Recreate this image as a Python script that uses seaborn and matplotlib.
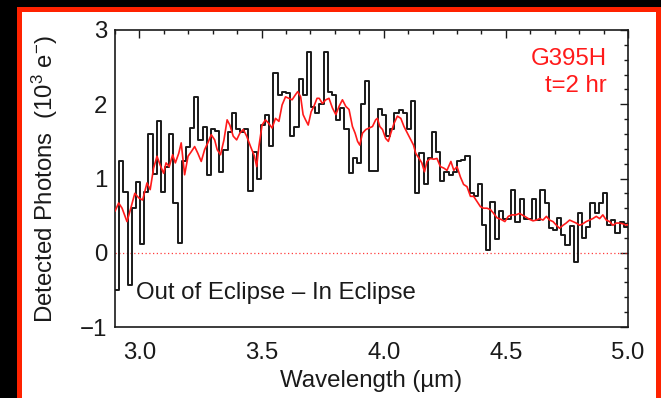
import numpy as np
import pandas as pd
import matplotlib
matplotlib.use("Agg")
import matplotlib.pyplot as plt
from matplotlib.patches import Rectangle
from matplotlib.ticker import MultipleLocator
import seaborn as sns

# ---- data -------------------------------------------------------------
# binned difference spectrum (out of eclipse minus in eclipse), 10^3 e-
wl_min, wl_max, n_bins = 2.9, 5.0, 123
binned_photons = [
    -0.50, 1.24, 0.82, -0.43, 0.60, 0.95, 0.12, 0.82, 1.60, 1.06,
    1.78, 0.82, 1.15, 1.60, 0.67, 0.13, 1.24, 1.43, 1.68, 2.10,
    1.52, 1.69, 1.05, 1.66, 1.64, 1.09, 1.39, 1.62, 1.88, 1.66,
    1.62, 1.66, 0.83, 1.36, 1.00, 1.72, 1.86, 1.44, 2.42, 2.13,
    2.17, 2.15, 1.57, 1.70, 2.34, 2.13, 2.71, 1.96, 1.88, 2.00,
    2.71, 2.17, 2.13, 1.79, 1.95, 1.66, 1.07, 1.28, 1.21, 2.00,
    2.31, 1.10, 1.10, 1.94, 1.86, 1.57, 1.66, 1.88, 1.92, 1.88,
    1.66, 2.04, 0.80, 1.34, 0.93, 1.27, 1.63, 1.36, 0.96, 1.09,
    1.05, 1.09, 1.23, 1.25, 1.30, 0.80, 0.76, 0.93, 0.38, 0.04,
    0.69, 0.18, 0.56, 0.45, 0.45, 0.84, 0.42, 0.72, 0.46, 0.46,
    0.72, 0.44, 0.85, 0.67, 0.33, 0.31, 0.47, 0.24, 0.11, 0.36,
    -0.12, 0.53, 0.20, 0.35, 0.67, 0.53, 0.67, 0.80, 0.37, 0.44,
    0.26, 0.42, 0.35,
]

# full-resolution model difference spectrum
model_wl = [
    2.900, 2.915, 2.929, 2.949, 2.963, 2.981, 2.997, 3.013, 3.031, 3.044,
    3.058, 3.072, 3.085, 3.099, 3.109, 3.122, 3.136, 3.147, 3.161, 3.171,
    3.185, 3.199, 3.212, 3.226, 3.239, 3.253, 3.267, 3.280, 3.294, 3.308,
    3.318, 3.332, 3.346, 3.359, 3.370, 3.384, 3.398, 3.411, 3.425, 3.439,
    3.455, 3.471, 3.480, 3.489, 3.502, 3.516, 3.530, 3.543, 3.557, 3.571,
    3.584, 3.598, 3.612, 3.625, 3.639, 3.648, 3.660, 3.670, 3.680, 3.691,
    3.703, 3.714, 3.727, 3.736, 3.749, 3.763, 3.776, 3.790, 3.804, 3.817,
    3.831, 3.845, 3.858, 3.872, 3.883, 3.893, 3.902, 3.913, 3.927, 3.940,
    3.954, 3.967, 3.974, 3.984, 3.995, 4.008, 4.019, 4.029, 4.042, 4.056,
    4.070, 4.083, 4.097, 4.111, 4.122, 4.131, 4.145, 4.156, 4.167, 4.177,
    4.191, 4.205, 4.218, 4.232, 4.246, 4.259, 4.275, 4.287, 4.300, 4.314,
    4.327, 4.341, 4.355, 4.368, 4.382, 4.396, 4.409, 4.423, 4.437, 4.450,
    4.464, 4.480, 4.496, 4.510, 4.524, 4.541, 4.556, 4.577, 4.597, 4.611,
    4.625, 4.638, 4.652, 4.666, 4.679, 4.693, 4.707, 4.720, 4.734, 4.747,
    4.761, 4.774, 4.788, 4.802, 4.815, 4.829, 4.843, 4.856, 4.870, 4.884,
    4.897, 4.911, 4.925, 4.938, 4.952, 4.965, 4.979, 4.993, 5.000,
]
model_photons = [
    0.56, 0.67, 0.60, 0.42, 0.58, 0.80, 0.74, 0.71, 0.94, 0.85,
    1.14, 1.30, 1.18, 1.07, 1.21, 1.16, 1.32, 1.21, 1.34, 1.48,
    1.05, 1.30, 1.36, 1.43, 1.34, 1.23, 1.39, 1.48, 1.59, 1.52,
    1.39, 1.32, 1.52, 1.79, 1.72, 1.57, 1.52, 1.61, 1.66, 1.57,
    1.43, 1.30, 1.16, 1.43, 1.72, 1.79, 1.74, 1.68, 1.81, 1.77,
    1.99, 2.10, 2.08, 2.06, 2.13, 2.17, 2.10, 1.86, 1.79, 1.72,
    1.90, 1.97, 2.08, 2.08, 2.01, 2.06, 2.08, 1.95, 1.86, 1.97,
    2.06, 1.97, 1.93, 1.70, 1.61, 1.50, 1.45, 1.61, 1.66, 1.68,
    1.70, 1.79, 1.81, 1.70, 1.66, 1.54, 1.50, 1.61, 1.74, 1.84,
    1.81, 1.70, 1.61, 1.52, 1.45, 1.34, 1.27, 1.21, 1.09, 1.23,
    1.27, 1.26, 1.27, 1.16, 1.14, 1.11, 1.23, 1.11, 1.16, 1.02,
    0.92, 0.89, 0.76, 0.76, 0.69, 0.62, 0.60, 0.60, 0.58, 0.53,
    0.47, 0.45, 0.42, 0.49, 0.51, 0.51, 0.53, 0.49, 0.45, 0.43,
    0.44, 0.46, 0.44, 0.49, 0.44, 0.42, 0.37, 0.33, 0.37, 0.40,
    0.44, 0.42, 0.40, 0.37, 0.39, 0.42, 0.44, 0.46, 0.49, 0.46,
    0.51, 0.44, 0.42, 0.37, 0.40, 0.40, 0.39, 0.37, 0.38,
]

x_ticks = [3.0, 3.5, 4.0, 4.5, 5.0]
y_ticks = [-1, 0, 1, 2, 3]

# ---- style ------------------------------------------------------------
sns.set_theme(style="white")
plt.rcParams["font.family"] = ["Liberation Sans", "DejaVu Sans"]
plt.rcParams["mathtext.fontset"] = "custom"
plt.rcParams["mathtext.rm"] = "Liberation Sans"
FS = 17.3
INK = "#1a1a1a"
RED = "#ff1a1a"

fig = plt.figure(figsize=(6.61, 3.98), dpi=100, facecolor="black")

# red-edged white panel behind the axes
fig.patches.append(Rectangle((18.5 / 661, -0.05), (657.5 - 18.5) / 661, 1.027,
                             transform=fig.transFigure, facecolor="white",
                             edgecolor="#ff2200", linewidth=3.6, zorder=-10))

ax = fig.add_axes([115 / 661, 1 - 327 / 398, (628 - 115) / 661, (327 - 30) / 398])
ax.set_zorder(5)
ax.set_facecolor("white")

bin_width = (wl_max - wl_min) / n_bins
centers = wl_min + bin_width * (np.arange(n_bins) + 0.5)
hist_df = pd.DataFrame({"wavelength": centers, "photons": binned_photons})
model_df = pd.DataFrame({"wavelength": model_wl, "photons": model_photons})

ax.axhline(0, color=RED, linestyle=(0, (1, 2)), linewidth=0.9, alpha=0.85,
           zorder=1)

sns.histplot(data=hist_df, x="wavelength", weights="photons", bins=n_bins,
             binrange=(wl_min, wl_max), element="step", fill=False,
             color=INK, linewidth=1.4, ax=ax, zorder=2)
sns.lineplot(data=model_df, x="wavelength", y="photons", color=RED,
             linewidth=1.2, estimator=None, sort=False, ax=ax, zorder=3)

ax.set_xlim(wl_min, wl_max)
ax.set_ylim(-1, 3)
ax.set_xticks(x_ticks)
ax.set_xticklabels([f"{v:.1f}" for v in x_ticks])
ax.set_yticks(y_ticks)
ax.xaxis.set_minor_locator(MultipleLocator(0.1))
ax.yaxis.set_minor_locator(MultipleLocator(0.2))

for side in ax.spines.values():
    side.set_color(INK)
    side.set_linewidth(1.2)
ax.tick_params(which="both", direction="in", top=True, right=True,
               color=INK, width=1.0, labelcolor=INK)
ax.tick_params(which="major", length=5.8, labelsize=FS)
ax.tick_params(which="minor", length=3.2)
ax.tick_params(axis="x", which="major", pad=11)
ax.tick_params(axis="y", which="major", pad=5.5)

ax.set_xlabel("Wavelength (\u00b5m)", fontsize=FS, color=INK)
ax.set_ylabel(r"Detected Photons  (10$\mathregular{^3}$ e$\mathregular{^{-}}$)",
              fontsize=FS, color=INK)
ax.xaxis.set_label_coords(0.5, -0.145)
ax.yaxis.set_label_coords(-0.107, 0.5)

ax.text(0.041, 0.094, "Out of Eclipse \u2013 In Eclipse", transform=ax.transAxes,
        fontsize=FS, color=INK, ha="left", va="baseline")
ax.text(0.959, 0.882, "G395H", transform=ax.transAxes, fontsize=FS,
        color=RED, ha="right", va="baseline")
ax.text(0.959, 0.792, "t=2 hr", transform=ax.transAxes, fontsize=FS,
        color=RED, ha="right", va="baseline")

fig.savefig("out.png", dpi=100, facecolor=fig.get_facecolor())
